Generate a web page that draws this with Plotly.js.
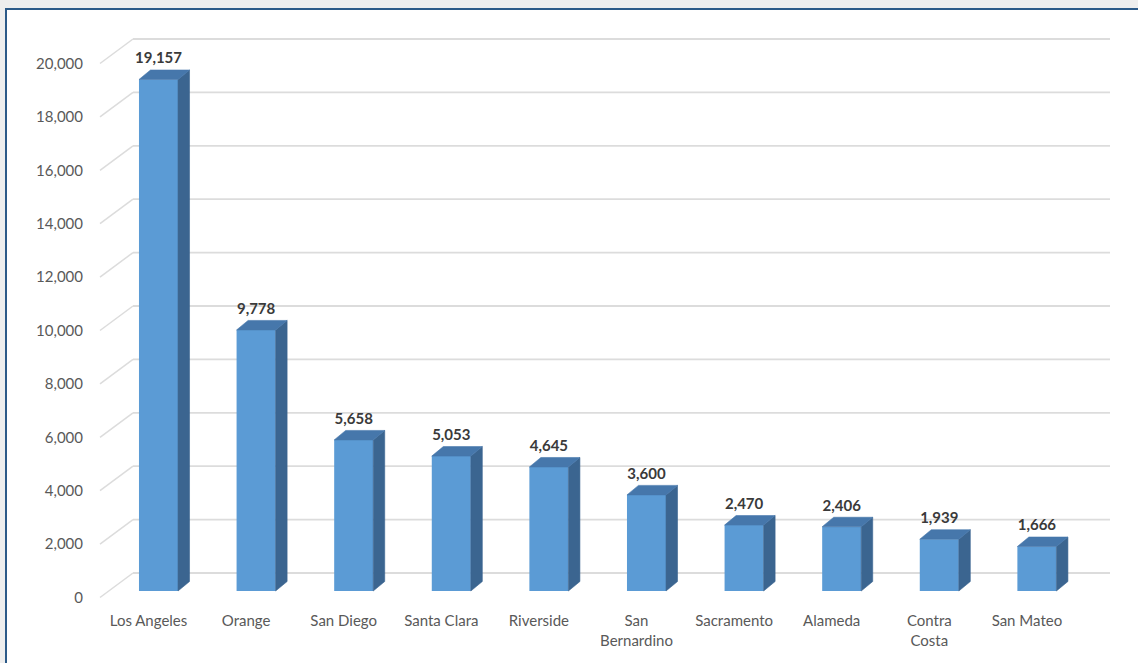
<!DOCTYPE html>
<html>
<head>
<meta charset="utf-8">
<script src="https://cdn.plot.ly/plotly-3.0.1.min.js"></script>
<style>html,body{margin:0;padding:0;background:#eeeeee;}#chart{width:1138px;height:663px;}</style>
</head>
<body>
<div id="chart"></div>
<script>
// ---- data ----
const counties = ["Los Angeles","Orange","San Diego","Santa Clara","Riverside","San Bernardino","Sacramento","Alameda","Contra Costa","San Mateo"];
const tickLabels = ["Los Angeles","Orange","San Diego","Santa Clara","Riverside","San<br>Bernardino","Sacramento","Alameda","Contra<br>Costa","San Mateo"];
const values = [19157, 9778, 5658, 5053, 4645, 3600, 2470, 2406, 1939, 1666];
const yTicks = [0, 2000, 4000, 6000, 8000, 10000, 12000, 14000, 16000, 18000, 20000];

// ---- geometry (pixel constants of the 3D projection) ----
const W = 1138, H = 663;
const X0 = 158.5, S = 97.6;      // front-face centre of first bar, category spacing
const Y0 = 591, K = 0.02670;     // pixel row of value 0 on bar plane, px per unit
const BAR_W = 0.4;
const DX = 11.5, DY = 9.5;       // bar depth in px
const TICK_DY = 6.5, TICK_DX = -10;   // tick-label plane relative to bar plane
const BACK_DY = -18;             // back wall relative to bar plane
const GRID_X0 = 133, GRID_X1 = 1110, DIAG_X0 = 100;

const xc = px => (px - X0) / S;
const dxu = px => px / S;
const dyu = py => py / K;
const idx = counties.map((_, i) => i);

// side & top faces
const sideX = [], sideY = [], topX = [], topY = [];
values.forEach((v, i) => {
  const r = i + BAR_W / 2, l = i - BAR_W / 2;
  sideX.push(r, r + dxu(DX), r + dxu(DX), r, r, null);
  sideY.push(0, dyu(DY), v + dyu(DY), v, 0, null);
  topX.push(l, l + dxu(DX), r + dxu(DX), r, l, null);
  topY.push(v, v + dyu(DY), v + dyu(DY), v, v, null);
});

const traces = [
  {type: "bar", x: idx, y: values, width: BAR_W, marker: {color: "#5b9bd5", line: {width: 0}}, hoverinfo: "skip"},
  {type: "scatter", mode: "lines", x: sideX, y: sideY, fill: "toself", fillcolor: "#3b6590", line: {width: 0.6, color: "#3b6590"}, hoverinfo: "skip"},
  {type: "scatter", mode: "lines", x: topX, y: topY, fill: "toself", fillcolor: "#4677ab", line: {width: 0.6, color: "#4677ab"}, hoverinfo: "skip"},
  {type: "scatter", mode: "text", x: idx, y: values.map(v => v + dyu(DY + 3)),
   text: values.map(v => v.toLocaleString("en-US")), textposition: "top center",
   textfont: {family: "Lato", size: 15, color: "#3a3a3a", weight: "bold"}, cliponaxis: false, hoverinfo: "skip"},
  // invisible trace that makes the label axes (x2/y2) exist
  {type: "scatter", mode: "markers", x: [0], y: [0], xaxis: "x2", yaxis: "y2", marker: {opacity: 0, size: 1}, hoverinfo: "skip"}
];

// gridlines on back wall + diagonals to tick plane
const shapes = [
  {type: "rect", xref: "paper", yref: "paper", x0: 6 / W, x1: 1.02, y0: -0.02, y1: 1 - 9 / H,
   fillcolor: "#ffffff", line: {color: "#2c5a88", width: 2}, layer: "below"}
];
yTicks.forEach(t => {
  const yb = t + dyu(-BACK_DY);
  const yt = t - dyu(TICK_DY);
  shapes.push({type: "line", xref: "x", yref: "y", x0: xc(GRID_X0), x1: xc(GRID_X1), y0: yb, y1: yb,
               line: {color: "#dcdcdc", width: 1.8}, layer: "below"});
  shapes.push({type: "line", xref: "x", yref: "y", x0: xc(DIAG_X0), x1: xc(GRID_X0), y0: yt, y1: yb,
               line: {color: "#dcdcdc", width: 1.5}, layer: "below"});
});

const font = {family: "Lato", size: 15, color: "#595959"};
const layout = {
  width: W, height: H,
  margin: {l: 0, r: 0, t: 0, b: 0, pad: 0},
  paper_bgcolor: "#eeeeee", plot_bgcolor: "rgba(0,0,0,0)",
  showlegend: false, hovermode: false,
  xaxis: {domain: [0, 1], range: [xc(0), xc(W)], showgrid: false, zeroline: false, showline: false, showticklabels: false, fixedrange: true},
  yaxis: {domain: [0, 1], range: [(Y0 - H) / K, Y0 / K], showgrid: false, zeroline: false, showline: false, showticklabels: false, fixedrange: true},
  xaxis2: {overlaying: "x", anchor: "free", position: 1 - 610 / H, side: "bottom",
           range: [(0 - X0 - TICK_DX) / S, (W - X0 - TICK_DX) / S],
           tickmode: "array", tickvals: idx, ticktext: tickLabels, ticks: "",
           showgrid: false, zeroline: false, showline: false, tickfont: font, fixedrange: true},
  yaxis2: {overlaying: "y", anchor: "free", position: 83 / W, side: "left",
           range: [(Y0 + TICK_DY - H) / K, (Y0 + TICK_DY) / K],
           tickmode: "array", tickvals: yTicks, ticktext: yTicks.map(t => t.toLocaleString("en-US")), ticks: "",
           showgrid: false, zeroline: false, showline: false, tickfont: font, fixedrange: true},
  shapes: shapes
};

Plotly.newPlot("chart", traces, layout, {displayModeBar: false, staticPlot: true});
</script>
</body>
</html>
